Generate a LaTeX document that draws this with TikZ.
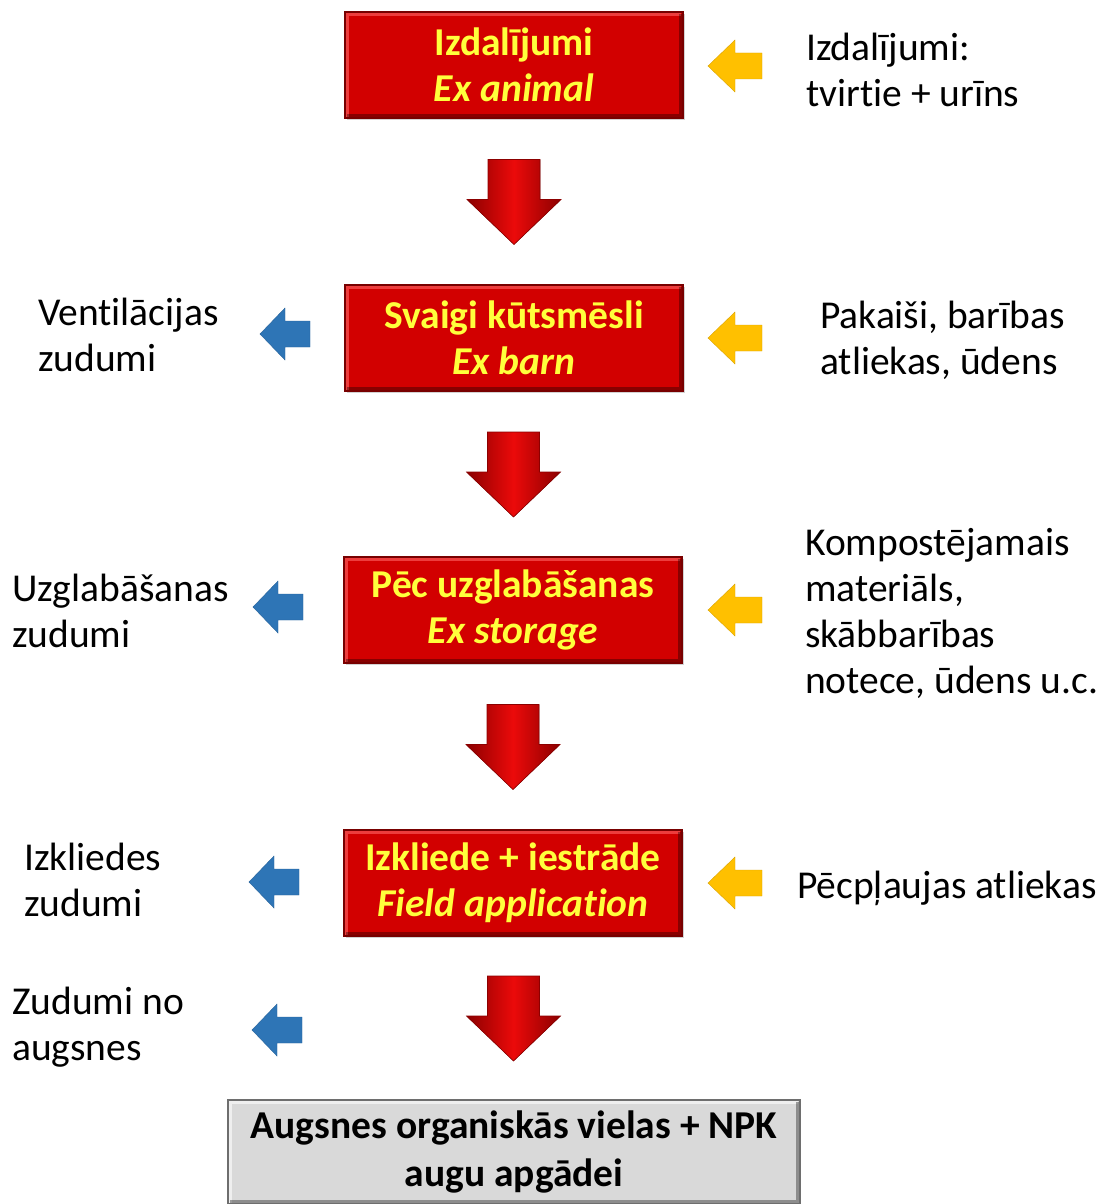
\documentclass[tikz,border=0pt]{standalone}
\usepackage{fontspec}
\setmainfont[Ligatures=NoCommon]{Carlito}
\usetikzlibrary{calc,shadows}
\definecolor{boxred}{RGB}{210,0,0}
\definecolor{boxedge}{RGB}{120,0,0}
\definecolor{txtyellow}{RGB}{255,255,60}
\definecolor{arrred}{RGB}{235,10,10}
\definecolor{arrdark}{RGB}{140,0,0}
\definecolor{arryellow}{RGB}{255,192,0}
\definecolor{arrblue}{RGB}{46,117,182}
\definecolor{boxgray}{RGB}{217,217,217}
\definecolor{grayedge}{RGB}{110,110,110}
\tikzset{
  bevel/.style={path picture={
    \draw[line width=4pt, #1!60!white, opacity=0.6]
      ([xshift=2pt,yshift=-2pt]path picture bounding box.south west) |- ([xshift=-2pt,yshift=-2pt]path picture bounding box.north east);
    \draw[line width=4pt, black, opacity=0.35]
      ([xshift=2pt,yshift=2pt]path picture bounding box.south west) -| ([xshift=-2pt,yshift=-2pt]path picture bounding box.north east);
  }},
  stagebox/.style={rectangle, minimum width=338pt, minimum height=106pt, inner sep=0pt,
    fill=boxred, draw=boxedge, line width=1.5pt, align=center, bevel=red,
    text=txtyellow, font=\fontsize{39.5}{46}\selectfont\bfseries,
    drop shadow={opacity=0.35, shadow xshift=2pt, shadow yshift=-2pt}},
  endbox/.style={rectangle, minimum width=572pt, minimum height=104pt, inner sep=0pt,
    fill=boxgray, draw=grayedge, line width=1.5pt, align=center, bevel=white,
    text=black, font=\fontsize{39.5}{48}\selectfont\bfseries},
  sidetext/.style={anchor=west, inner sep=0pt, align=left, text=black,
    font=\fontsize{39.5}{46}\selectfont},
  redarrow/.pic={
    \fill[left color=arrdark, right color=arrdark, middle color=arrred, draw=arrdark, line width=0.6pt]
      (-26,-42) -- (26,-42) -- (26,-2) -- (47,-2) -- (0,43) -- (-47,-2) -- (-26,-2) -- cycle;
  },
  yelarrow/.pic={
    \fill[arryellow, draw=arryellow!85!black, line width=0.4pt]
      (-27,0) -- (0,-26) -- (0,-13) -- (27,-13) -- (27,13) -- (0,13) -- (0,26) -- cycle;
  },
  bluearrow/.pic={
    \fill[arrblue, draw=arrblue!85!black, line width=0.4pt]
      (-25,0) -- (0,-26) -- (0,-13) -- (25,-13) -- (25,13) -- (0,13) -- (0,26) -- cycle;
  }
}
\begin{document}
\begin{tikzpicture}[x=1pt,y=-1pt]
\useasboundingbox[fill=white] (0,0) rectangle (1103,1204);

\node[stagebox] (b1) at (514,65) {Izdalījumi\\\itshape Ex animal};
\node[stagebox] (b2) at (514,338) {Svaigi kūtsmēsli\\\itshape Ex barn};
\node[stagebox] (b3) at (513,610) {Pēc uzglabāšanas\\\itshape Ex storage};
\node[stagebox] (b4) at (513,883) {Izkliede + iestrāde\\\itshape Field application};
\node[endbox] (b5) at (514,1152) {Augsnes organiskās vielas + NPK\\augu apgādei};

\pic at ($(b1.south)!0.5!(b2.north)$) {redarrow};
\pic at ($(b2.south)!0.5!(b3.north)$) {redarrow};
\pic at ($(b3.south)!0.5!(b4.north)$) {redarrow};
\pic at ($(b4.south)!0.5!(b5.north)$) {redarrow};

\pic at (735,66) {yelarrow};
\pic at (735,338) {yelarrow};
\pic at (735,610) {yelarrow};
\pic at (735,883) {yelarrow};

\pic at (285,334) {bluearrow};
\pic at (278,607) {bluearrow};
\pic at (274,882) {bluearrow};
\pic at (277,1030) {bluearrow};

\node[sidetext] (r1) at (806,70) {Izdalījumi:\\tvirtie + urīns};
\node[sidetext] (r2) at (820,340) {Pakaiši, barības\\atliekas, ūdens};
\node[sidetext] (r3) at (805,613) {Kompostējamais\\materiāls,\\skābbarības\\notece, ūdens u.c.};
\node[sidetext] (r4) at (797,888) {Pēcpļaujas atliekas};

\node[sidetext] (l1) at (38,335) {Ventilācijas\\zudumi};
\node[sidetext] (l2) at (12,611) {Uzglabāšanas\\zudumi};
\node[sidetext] (l3) at (24,880) {Izkliedes\\zudumi};
\node[sidetext] (l4) at (12,1027) {Zudumi no\\augsnes};
\end{tikzpicture}
\end{document}
